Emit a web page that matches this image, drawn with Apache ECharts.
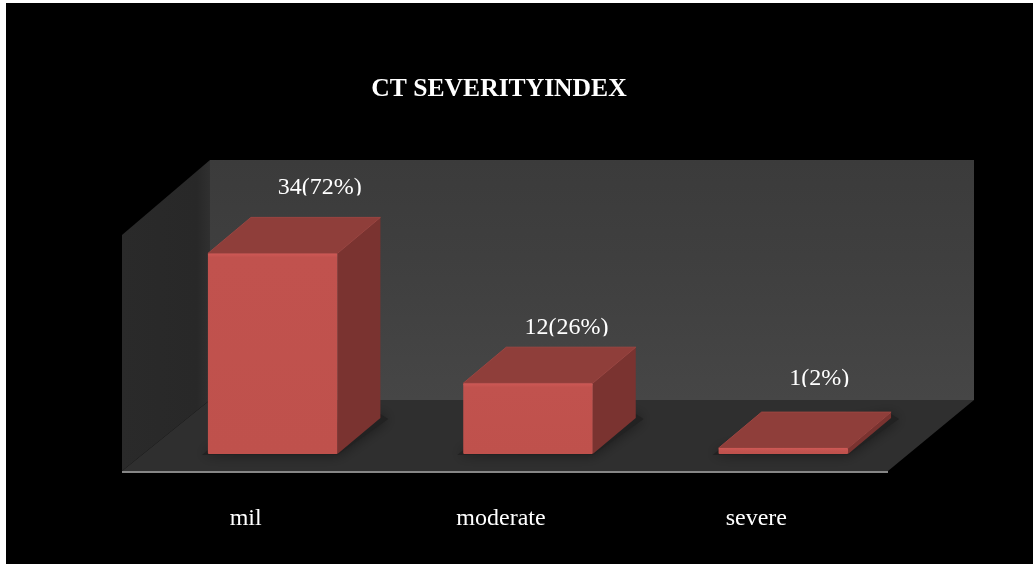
<!DOCTYPE html>
<html>
<head>
<meta charset="utf-8">
<style>html,body{margin:0;padding:0;background:#fff}#c{width:1033px;height:564px}</style>
<script src="https://cdn.jsdelivr.net/npm/echarts@6/dist/echarts.min.js"></script>
</head>
<body>
<div id="c"></div>
<script>
const titleText = 'CT SEVERITYINDEX';
const categories = ['mil', 'moderate', 'severe'];
const counts = [34, 12, 1];
const percents = [72, 26, 2];
const yMax = 40;

const barW = 129.5, depthX = 43, depthY = 36;
// hand-placed label nudges of the original: [x from bar centre, baseline above the bar's back edge]
const labelNudgeX = [47, 38.5, 36];
const labelNudgeY = [23, 12, 26];

function pts(a) { return { points: a }; }

function renderWalls(params, api) {
  const cs = params.coordSys;
  const L = cs.x, B = cs.y + cs.height, T = cs.y, R = cs.x + cs.width;
  const fx = -23, fy = 17;          // front edge of the floor relative to the bar plane
  const bx = 65, by = -54;          // back wall relative to the bar plane
  const rx = R + fx, ry = B + fy;
  const wallLeft = L + bx, wallFloor = B + by, wallTop = T - 58, wallRight = rx + 86;
  return {
    type: 'group',
    children: [
      { type: 'polygon', shape: pts([[wallLeft, wallTop], [wallRight, wallTop], [wallRight, wallFloor], [wallLeft, wallFloor]]),
        style: { fill: new echarts.graphic.LinearGradient(0, 0, 0, 1, [{offset:0,color:'#3b3b3b'},{offset:.5,color:'#404040'},{offset:1,color:'#464646'}]) } },
      { type: 'polygon', shape: pts([[L + fx, T + fy], [wallLeft, wallTop], [wallLeft, wallFloor], [L + fx, ry]]),
        style: { fill: new echarts.graphic.LinearGradient(0, 0, 1, 0, [{offset:0,color:'#2a2a2a'},{offset:.85,color:'#282828'},{offset:1,color:'#303030'}]) } },
      { type: 'polygon', shape: pts([[L + fx, ry], [rx, ry], [wallRight, wallFloor], [wallLeft, wallFloor]]),
        style: { fill: '#2f2f2f' } },
      { type: 'line', shape: { x1: L + fx, y1: ry + 1, x2: rx, y2: ry + 1 }, style: { stroke: '#868686', lineWidth: 2 } }
    ]
  };
}

function renderBar(params, api) {
  const i = params.dataIndex;
  const base = api.coord([api.value(0), 0]);
  const top = api.coord([api.value(0), api.value(1)]);
  const x0 = base[0] - barW / 2, x1 = base[0] + barW / 2;
  const yB = base[1], yT = top[1];
  const dx = depthX, dy = depthY;
  const label = api.value(1) + '(' + percents[i] + '%)';
  const labelX = base[0] + labelNudgeX[i], labelY = yT - dy - labelNudgeY[i];
  const h = yB - yT;
  return {
    type: 'group',
    children: [
      { type: 'polygon', shape: pts([[x0 - 6, yB + 1], [x1, yB + 1], [x1 + dx + 8, yB - dy + 1], [x1 + dx, yB - dy - 4], [x0, yB - 4]]),
        style: { fill: '#222222', shadowBlur: 14, shadowColor: '#1a1a1a' } },
      { type: 'polygon', shape: pts([[x1, yB], [x1 + dx, yB - dy], [x1 + dx, yT - dy], [x1, yT]]),
        style: { fill: '#7a3330' } },
      { type: 'polygon', shape: pts([[x0, yT], [x0 + dx, yT - dy], [x1 + dx, yT - dy], [x1, yT]]),
        style: { fill: '#8f3e3a', stroke: '#9b4541', lineWidth: 1, lineJoin: 'round' } },
      { type: 'rect', shape: { x: x0, y: yT, width: barW, height: h, r: 1 },
        style: { fill: new echarts.graphic.LinearGradient(0, 0, 0, 1, [
          {offset:0,color:'#cf5956'},
          {offset:Math.min(0.5, 4/h),color:'#c1524e'},
          {offset:1,color:'#bf514c'}]) } },
      // the original's labels are cut off just under the digits
      { type: 'group',
        clipPath: { type: 'rect', shape: { x: labelX - 60, y: labelY - 30, width: 120, height: 31 } },
        children: [
          { type: 'text', x: labelX, y: labelY + 5,
            style: { text: label, fill: '#fff', fontFamily: 'Liberation Serif', fontSize: 24, align: 'center', verticalAlign: 'bottom' } }
        ] }
    ]
  };
}

const chart = echarts.init(document.getElementById('c'), null, { renderer: 'canvas' });
chart.setOption({
  animation: false,
  backgroundColor: '#fff',
  graphic: [{ type: 'rect', z: -10, shape: { x: 6, y: 3, width: 1027, height: 561 }, style: { fill: '#000' } }],
  title: {
    text: titleText, left: 494, top: 71, textAlign: 'center',
    textStyle: { color: '#fff', fontFamily: 'Liberation Serif', fontWeight: 'bold', fontSize: 25.6 }
  },
  grid: { left: 145, top: 218, width: 766, height: 236 },
  xAxis: {
    type: 'category', data: categories,
    axisLine: { show: false }, axisTick: { show: false },
    axisLabel: { color: '#fff', fontFamily: 'Liberation Serif', fontSize: 24, margin: 53, padding: [0, 54, 0, 0] }
  },
  yAxis: { type: 'value', min: 0, max: yMax, show: false, splitLine: { show: false } },
  series: [
    { type: 'custom', silent: true, z: 1, clip: false, data: [[categories[0], 0]], renderItem: renderWalls, encode: { x: 0, y: 1 } },
    { type: 'custom', silent: true, z: 2, clip: false,
      data: categories.map((c, i) => [c, counts[i]]), renderItem: renderBar, encode: { x: 0, y: 1 } }
  ]
});
</script>
</body>
</html>
